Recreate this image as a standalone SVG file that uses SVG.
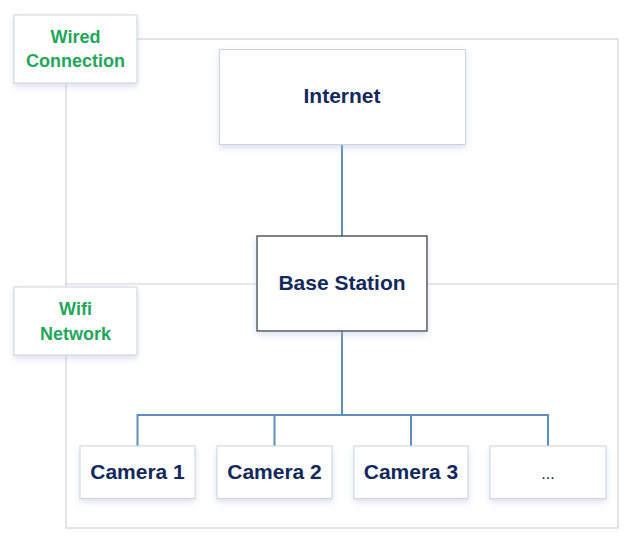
<svg xmlns="http://www.w3.org/2000/svg" width="637" height="548" viewBox="0 0 637 548">
  <defs>
    <filter id="sh" x="-20%" y="-20%" width="140%" height="160%">
      <feDropShadow dx="0" dy="3" stdDeviation="3" flood-color="#a9bedb" flood-opacity="0.45"/>
    </filter>
  </defs>
  <style>
    .frame { fill: none; stroke: #cdd1d8; stroke-width: 1.2; }
    .box { fill: #ffffff; stroke: #cfd3d9; stroke-width: 1; filter: url(#sh); }
    .dark { fill: #ffffff; stroke: #2b2b2b; stroke-width: 1.2; filter: url(#sh); }
    .conn { fill: none; stroke: #5b8fbe; stroke-width: 2; }
    .t { font-family: "Liberation Sans", Arial, sans-serif; font-weight: bold; font-size: 21px; fill: #13295b; text-anchor: middle; }
    .g { font-family: "Liberation Sans", Arial, sans-serif; font-weight: bold; font-size: 18px; fill: #22a65a; text-anchor: middle; }
    .dots { font-family: "Liberation Sans", Arial, sans-serif; font-size: 16px; fill: #13295b; text-anchor: middle; }
  </style>
  <rect width="637" height="548" fill="#ffffff"/>
  <g id="frame">
    <rect class="frame" x="66" y="39" width="552" height="489"/>
    <line class="frame" x1="66" y1="284" x2="618" y2="284"/>
  </g>
  <g id="connectors">
    <line class="conn" x1="342" y1="144" x2="342" y2="236"/>
    <path class="conn" d="M342 331 V415 M137.5 446 V415 H548 V446 M274.5 415 V446 M411 415 V446"/>
  </g>
  <g id="wired-connection">
    <rect class="box" x="14" y="15" width="123" height="68"/>
    <text class="g" x="75.5" y="43">Wired</text>
    <text class="g" x="75.5" y="67">Connection</text>
  </g>
  <g id="wifi-network">
    <rect class="box" x="14" y="287" width="123" height="68"/>
    <text class="g" x="75.5" y="315">Wifi</text>
    <text class="g" x="75.5" y="340">Network</text>
  </g>
  <g id="internet">
    <rect class="box" x="219.5" y="49.5" width="246" height="95"/>
    <text class="t" x="342" y="103">Internet</text>
  </g>
  <g id="base-station">
    <rect class="dark" x="257" y="236" width="170" height="95"/>
    <text class="t" x="342" y="290">Base Station</text>
  </g>
  <g id="camera-1">
    <rect class="box" x="80" y="446" width="115" height="52.5"/>
    <text class="t" x="137.5" y="479">Camera 1</text>
  </g>
  <g id="camera-2">
    <rect class="box" x="217" y="446" width="115" height="52.5"/>
    <text class="t" x="274.5" y="479">Camera 2</text>
  </g>
  <g id="camera-3">
    <rect class="box" x="354" y="446" width="114" height="52.5"/>
    <text class="t" x="411" y="479">Camera 3</text>
  </g>
  <g id="more">
    <rect class="box" x="490" y="446" width="116" height="52.5"/>
    <text class="dots" x="548" y="479">...</text>
  </g>
</svg>
